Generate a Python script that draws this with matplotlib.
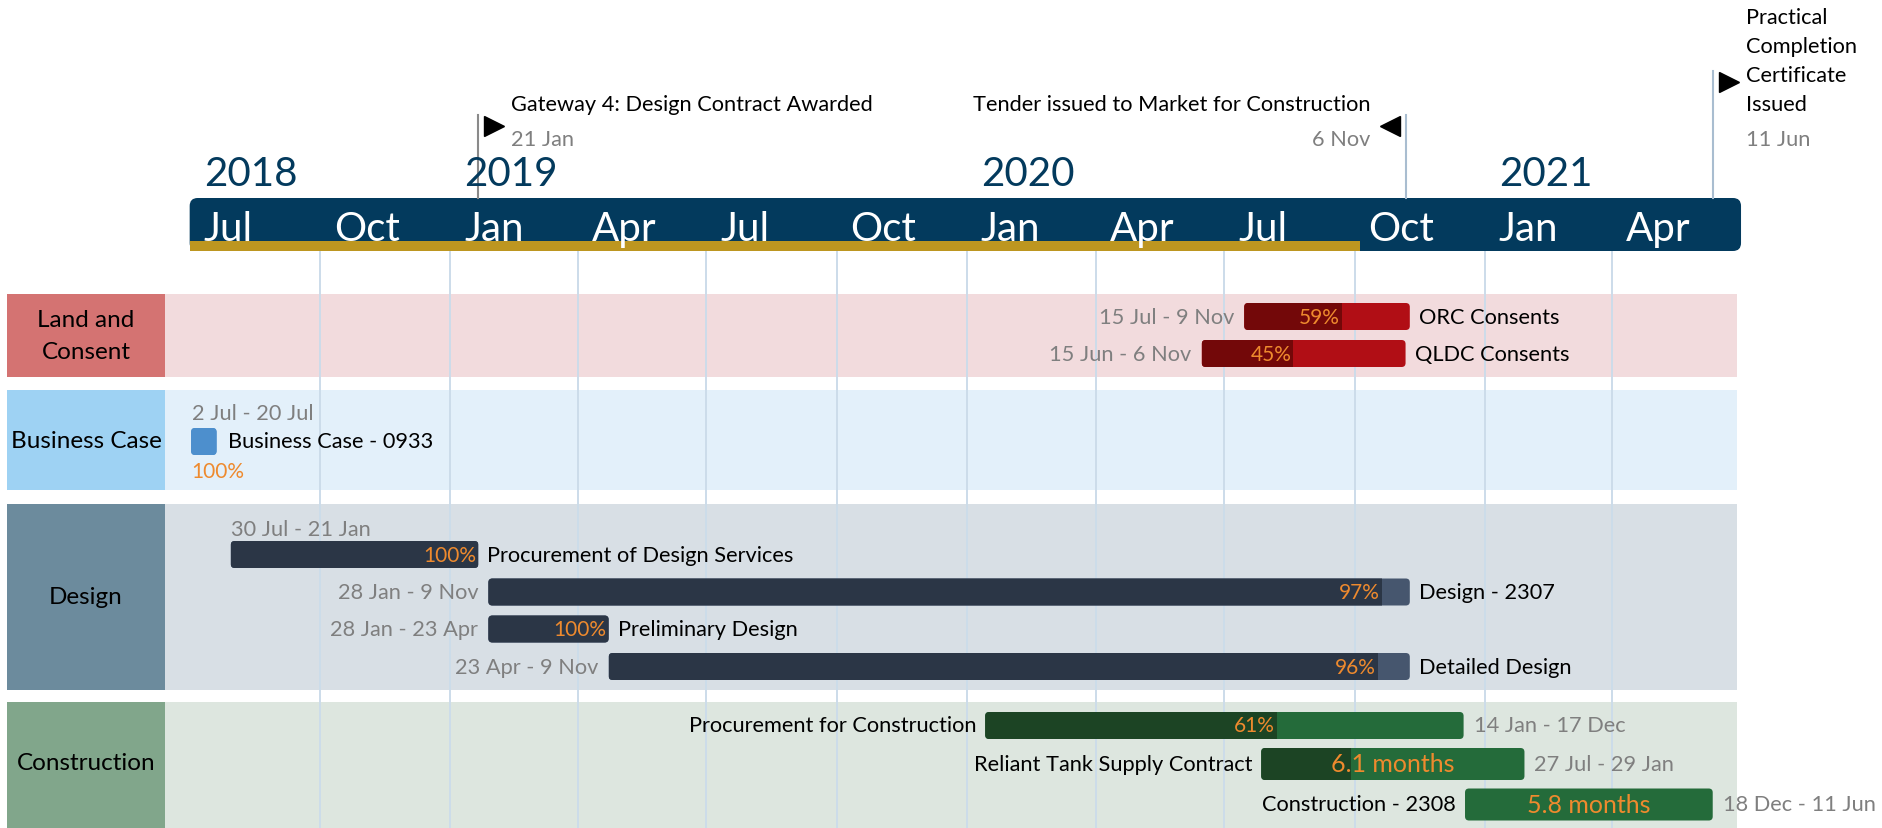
import datetime as dt
import matplotlib.pyplot as plt
import matplotlib.dates as mdates
from matplotlib.patches import FancyBboxPatch, Rectangle
from matplotlib.transforms import blended_transform_factory

plt.rcParams['font.family'] = ['Lato', 'DejaVu Sans']

# ---- data ----
axis_start = '2018-07-01'
axis_end = '2021-07-01'
today = '2020-10-05'

month_ticks = ['2018-07-01', '2018-10-01', '2019-01-01', '2019-04-01', '2019-07-01', '2019-10-01',
               '2020-01-01', '2020-04-01', '2020-07-01', '2020-10-01', '2021-01-01', '2021-04-01']
month_labels = ['Jul', 'Oct', 'Jan', 'Apr', 'Jul', 'Oct', 'Jan', 'Apr', 'Jul', 'Oct', 'Jan', 'Apr']
year_ticks = ['2018-07-01', '2019-01-01', '2020-01-01', '2021-01-01']
year_labels = ['2018', '2019', '2020', '2021']

ms_names = ['Gateway 4: Design Contract Awarded',
            'Tender issued to Market for Construction',
            'Practical\nCompletion\nCertificate\nIssued']
ms_dates = ['2019-01-21', '2020-11-06', '2021-06-11']

lanes = ['Land and\nConsent', 'Business Case', 'Design', 'Construction']

task_names = ['ORC Consents', 'QLDC Consents', 'Business Case - 0933',
              'Procurement of Design Services', 'Design - 2307', 'Preliminary Design',
              'Detailed Design', 'Procurement for Construction',
              'Reliant Tank Supply Contract', 'Construction - 2308']
task_lane = [0, 0, 1, 2, 2, 2, 2, 3, 3, 3]
task_start = ['2020-07-15', '2020-06-15', '2018-07-02', '2018-07-30', '2019-01-28',
              '2019-01-28', '2019-04-23', '2020-01-14', '2020-07-27', '2020-12-18']
task_end = ['2020-11-09', '2020-11-06', '2018-07-20', '2019-01-21', '2020-11-09',
            '2019-04-23', '2020-11-09', '2020-12-17', '2021-01-29', '2021-06-11']
task_progress = [0.59, 0.45, 1.0, 1.0, 0.97, 1.0, 0.96, 0.61, 0.34, 0.0]
task_tag = ['pct', 'pct', 'pct', 'pct', 'pct', 'pct', 'pct', 'pct', 'months', 'months']

# ---- style / layout ----
W, H = 1883, 829
lane_top = [295, 391, 505, 703]
lane_bot = [378, 491, 691, 840]
lane_label_col = ['#D47372', '#9ED2F3', '#6C8B9D', '#81A68B']
lane_bg_col = ['#F2DBDD', '#E3F0FA', '#D8DFE5', '#DDE6DF']
lane_dark = ['#730809', '#4D8FCD', '#2B3646', '#1C4424']
lane_light = ['#B10E15', '#4D8FCD', '#46566E', '#246B3A']
row_y = [317.5, 354.5, 442.5, 555.5, 593, 630, 667.5, 726.5, 765, 805.5]
row_h = [27, 27, 27, 27, 27, 27, 27, 27, 32, 32]
label_mode = ['left', 'left', 'bc', 'above', 'left', 'left', 'left', 'right', 'right', 'right']

NAVY = '#033A5D'
GOLD = '#BD9620'
GREY = '#7F7F7F'
ORANGE = '#EE8A2E'
FS = 15.7

d = lambda s: mdates.date2num(dt.datetime.strptime(s, '%Y-%m-%d'))
x_lo = d(axis_start) - 134.0
x_hi = d(axis_end) + 100.3
PX = W / (x_hi - x_lo)   # pixels per day


def short(s):
    t = dt.datetime.strptime(s, '%Y-%m-%d')
    return f'{t.day} {t:%b}'


def month_span(a, b):
    a = dt.datetime.strptime(a, '%Y-%m-%d')
    b = dt.datetime.strptime(b, '%Y-%m-%d')
    m = (b.year - a.year) * 12 + b.month - a.month
    return m + (b.day - a.day) / 31


fig = plt.figure(figsize=(W / 100, H / 100), dpi=100)
ax = fig.add_axes([0, 0, 1, 1])
ax.set_xlim(x_lo, x_hi)
ax.set_ylim(H, 0)
ax.axis('off')
blend = blended_transform_factory(ax.transAxes, ax.transData)


def rbar(x0, x1, yc, h, color, r=4, z=4):
    p = FancyBboxPatch((x0, yc - h / 2), x1 - x0, h,
                       boxstyle=f'round,pad=0,rounding_size={r / PX}',
                       mutation_aspect=PX, fc=color, ec='none', zorder=z)
    ax.add_patch(p)
    return p


# timeline band
rbar(d(axis_start), d(axis_end), 225.5, 53, NAVY, r=8, z=2)
gold = Rectangle((d(axis_start), 242), d(today) - d(axis_start), 10, fc=GOLD, ec='none', zorder=3)
ax.add_patch(gold)
for t, lab in zip(month_ticks, month_labels):
    ax.text(d(t) + 14 / PX, 241, lab, color='white', fontsize=29, va='baseline', ha='left', zorder=5)
for t, lab in zip(year_ticks, year_labels):
    ax.text(d(t) + 14 / PX, 186, lab, color=NAVY, fontsize=29, va='baseline', ha='left', zorder=5)

# grid lines
for t in month_ticks[1:]:
    ax.plot([d(t), d(t)], [252, H], color='#CCDCEA', lw=1.4, zorder=1.5)

# milestones
for i, (name, ds) in enumerate(zip(ms_names, ms_dates)):
    x = d(ds)
    top = 72 if i == 2 else 116
    ax.plot([x, x], [top, 199], color='#8A8A8A' if i == 0 else '#A9BDD0', lw=1.5, zorder=2)
    lines = name.split('\n')
    if i == 1:
        ax.plot(x - 16 / PX, 127, marker='<', ms=14, color='black', zorder=5)
        tx, ha = x - 35 / PX, 'right'
    else:
        ax.plot(x + 16 / PX, 127 if i == 0 else 83, marker='>', ms=14, color='black', zorder=5)
        tx, ha = x + 33 / PX, 'left'
    for k, ln in enumerate(lines):
        ax.text(tx, 105 - (len(lines) - 1 - k) * 29, ln, fontsize=FS, ha=ha, va='center')
    ax.text(tx, 140, short(ds), fontsize=FS, color=GREY, ha=ha, va='center')

# lanes
for i, lab in enumerate(lanes):
    ax.add_patch(Rectangle((7 / W, lane_top[i]), (165 - 7) / W, lane_bot[i] - lane_top[i],
                           transform=blend, fc=lane_label_col[i], ec='none', zorder=1))
    ax.add_patch(Rectangle((165 / W, lane_top[i]), (1737 - 165) / W, lane_bot[i] - lane_top[i],
                           transform=blend, fc=lane_bg_col[i], ec='none', zorder=1))
    ax.text(86 / W, (lane_top[i] + min(lane_bot[i], H)) / 2 + (0 if i < 3 else -2), lab,
            transform=blend, ha='center', va='center', fontsize=17.5, linespacing=1.6, zorder=2)

# tasks
for i, name in enumerate(task_names):
    ln = task_lane[i]
    x0, x1 = d(task_start[i]), d(task_end[i])
    y, h, p = row_y[i], row_h[i], task_progress[i]
    rbar(x0, x1, y, h, lane_light[ln])
    if p > 0:
        dark = rbar(x0, x1, y, h, lane_dark[ln], z=4.5)
        clip = Rectangle((x0, y - h), (x1 - x0) * p, 2 * h, transform=ax.transData)
        dark.set_clip_path(clip)
    xp = x0 + (x1 - x0) * p
    dates = f'{short(task_start[i])} - {short(task_end[i])}'
    if task_tag[i] == 'months':
        months = month_span(task_start[i], task_end[i])
        ax.text((x0 + x1) / 2, y, f'{months:.1f} months', color=ORANGE, fontsize=18,
                ha='center', va='center', zorder=6)
    elif label_mode[i] != 'bc':
        ax.text(xp - 2 / PX, y, f'{p * 100:.0f}%', color=ORANGE, fontsize=15,
                ha='right', va='center', zorder=6)
    mode = label_mode[i]
    if mode == 'left':
        ax.text(x0 - 10 / PX, y, dates, color=GREY, fontsize=FS, ha='right', va='center', zorder=6)
        ax.text(x1 + 9 / PX, y, name, fontsize=FS, ha='left', va='center', zorder=6)
    elif mode == 'right':
        ax.text(x0 - 9 / PX, y, name, fontsize=FS, ha='right', va='center', zorder=6)
        ax.text(x1 + 10 / PX, y, dates, color=GREY, fontsize=FS, ha='left', va='center', zorder=6)
    elif mode == 'above':
        ax.text(x0, y - 26, dates, color=GREY, fontsize=FS, ha='left', va='center', zorder=6)
        ax.text(x1 + 9 / PX, y, name, fontsize=FS, ha='left', va='center', zorder=6)
    else:
        ax.text(x0 + 1 / PX, y - 28, dates, color=GREY, fontsize=FS, ha='left', va='center', zorder=6)
        ax.text(x1 + 11 / PX, y, name, fontsize=FS, ha='left', va='center', zorder=6)
        ax.text(x0, y + 29, f'{p * 100:.0f}%', color=ORANGE, fontsize=15, ha='left', va='center', zorder=6)

fig.savefig('out.png', dpi=100)
plt.close()
